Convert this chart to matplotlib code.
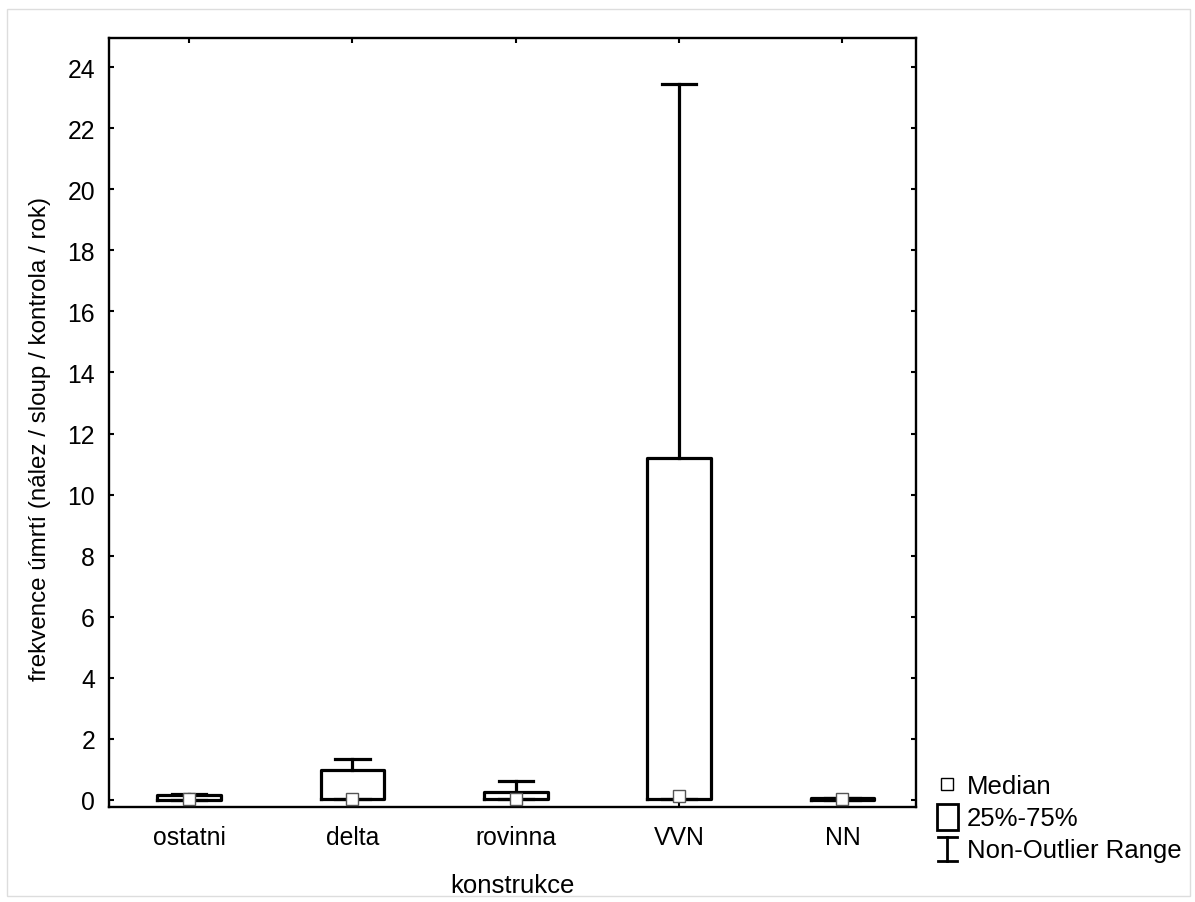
import matplotlib.pyplot as plt
from matplotlib.lines import Line2D
from matplotlib.patches import Rectangle

plt.rcParams['font.family'] = ['Liberation Sans', 'DejaVu Sans']

# box plot summary
categories = ["ostatni", "delta", "rovinna", "VVN", "NN"]
medians = [0.03, 0.03, 0.03, 0.12, 0.03]
q1 = [0.0, 0.02, 0.02, 0.02, 0.0]
q3 = [0.15, 0.98, 0.27, 11.2, 0.05]
whisk_lo = [0.0, 0.02, 0.02, 0.02, 0.0]
whisk_hi = [0.2, 1.35, 0.63, 23.45, 0.06]

fig = plt.figure(figsize=(11.95, 9.03), dpi=100)
ax = fig.add_axes([0.0912, 0.1052, 0.6753, 0.8516])

stats = []
for i, c in enumerate(categories):
    stats.append({"med": medians[i], "q1": q1[i], "q3": q3[i],
                  "whislo": whisk_lo[i], "whishi": whisk_hi[i], "label": c})

lw = 2.3
ax.bxp(stats, positions=range(len(categories)), widths=0.39, capwidths=0.21,
       showfliers=False,
       boxprops=dict(color="black", linewidth=lw),
       whiskerprops=dict(color="black", linewidth=lw),
       capprops=dict(color="black", linewidth=lw),
       medianprops=dict(linewidth=0))
ax.plot(range(len(categories)), medians, "s", markersize=8,
        markerfacecolor="white", markeredgecolor="#555555", markeredgewidth=1.0,
        zorder=5, clip_on=False)

ax.set_xlim(-0.49, 4.45)
ax.set_ylim(-0.23, 24.95)
ax.set_yticks(range(0, 25, 2))
ax.set_xticks(range(len(categories)))
ax.set_xticklabels(categories)
for s in ax.spines.values():
    s.set_linewidth(1.7)
ax.tick_params(direction="in", length=3.5, width=1.5, labelsize=17.8,
               top=True, right=True, pad=10)
ax.tick_params(axis="x", pad=13)
ax.set_xlabel("konstrukce", fontsize=18.5, labelpad=17)
ax.set_ylabel("frekvence úmrtí (nález / sloup / kontrola / rok)", fontsize=17.4)
ax.yaxis.set_label_coords(-0.072, 0.48)

# legend drawn by hand outside the axes
fx = lambda px: px / 1195
fy = lambda py: 1 - py / 903
fig.add_artist(Line2D([fx(947)], [fy(785)], marker="s", markersize=8,
                      markerfacecolor="white", markeredgecolor="black",
                      markeredgewidth=1.0, linestyle="none"))
fig.add_artist(Rectangle((fx(937), fy(831)), fx(958) - fx(937), fy(805) - fy(831),
                         facecolor="white", edgecolor="black", linewidth=2.0))
fig.add_artist(Line2D([fx(947), fx(947)], [fy(838), fy(862)], color="black", linewidth=2.0))
fig.add_artist(Line2D([fx(938), fx(957)], [fy(838), fy(838)], color="black", linewidth=2.0))
fig.add_artist(Line2D([fx(938), fx(957)], [fy(862), fy(862)], color="black", linewidth=2.0))
for py, t in [(787, "Median"), (819, "25%-75%"), (851, "Non-Outlier Range")]:
    fig.text(fx(967), fy(py), t, fontsize=18.5, va="center", ha="left")

# thin frame around the whole picture
fig.add_artist(Rectangle((fx(7), fy(897)), fx(1190) - fx(7), fy(10) - fy(897),
                         fill=False, edgecolor="#dddddd", linewidth=1.0))

fig.savefig("out.png", dpi=100)
